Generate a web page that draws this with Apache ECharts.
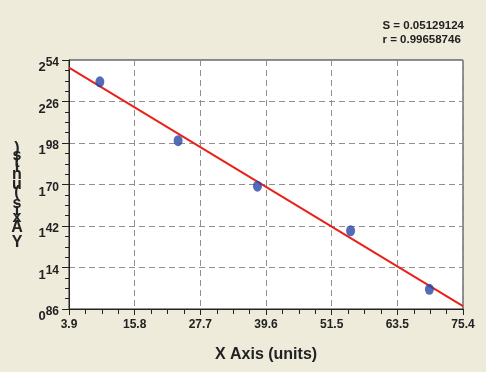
<!DOCTYPE html>
<html>
<head>
<meta charset="utf-8">
<script src="https://cdn.jsdelivr.net/npm/echarts@6/dist/echarts.min.js"></script>
<style>
html,body{margin:0;padding:0;background:#EEEBDB;}
#c{width:486px;height:372px;}
</style>
</head>
<body>
<div id="c"></div>
<script>
// ---- data ----
const xTicks = ['3.9','15.8','27.7','39.6','51.5','63.5','75.4'];
const yTicks = ['0.86','1.14','1.42','1.70','1.98','2.26','2.54'];
const pointsX = [9.5, 23.7, 38.1, 55.0, 69.3];
const pointsY = [2.393, 1.996, 1.689, 1.388, 0.993];
const fitX = [3.9, 75.4];
const fitY = [2.488, 0.880];
const statLines = ['S = 0.05129124', 'r = 0.99658746'];
const xTitle = 'X Axis (units)';
const yTitle = 'Y Axis (units)';

// ---- axes in offset units (origin at first tick) ----
const x0 = parseFloat(xTicks[0]), x1 = parseFloat(xTicks[xTicks.length-1]);
const y0 = parseFloat(yTicks[0]), y1 = parseFloat(yTicks[yTicks.length-1]);
const xInt = (x1 - x0) / (xTicks.length - 1);
const yInt = (y1 - y0) / (yTicks.length - 1);
const pts = pointsX.map((x, i) => [x - x0, pointsY[i] - y0]);
const fit = fitX.map((x, i) => [x - x0, fitY[i] - y0]);

const FONT = '"Liberation Sans", Arial, sans-serif';
const chart = echarts.init(document.getElementById('c'), null, {renderer: 'canvas'});

// stacked y title characters (top to bottom)
const ctx = document.createElement('canvas').getContext('2d');
ctx.font = 'bold 16px "Liberation Sans"';
const chars = yTitle.split('').reverse();
let cum = 0;
const yTitleEls = [];
chars.forEach(ch => {
  const w = ctx.measureText(ch).width;
  if (ch !== ' ') {
    yTitleEls.push({
      type: 'text',
      x: 17, y: 146 + cum + w / 2,
      style: {text: ch, font: 'bold 16px ' + FONT, fill: '#222', align: 'center', verticalAlign: 'middle'}
    });
  }
  cum += w;
});

chart.setOption({
  backgroundColor: '#EEEBDB',
  animation: false,
  grid: {left: 69, right: 23, top: 60, bottom: 63, show: true, backgroundColor: '#ffffff', borderColor: '#222', borderWidth: 1},
  xAxis: {
    type: 'value', min: 0, max: x1 - x0, interval: xInt,
    axisLine: {show: true, lineStyle: {color: '#222', width: 1}},
    axisTick: {show: true, length: 6, lineStyle: {color: '#222'}},
    minorTick: {show: true, splitNumber: 4, length: 5, lineStyle: {color: '#222'}},
    splitLine: {show: true, lineStyle: {color: '#909090', type: [6, 4], width: 1}},
    axisLabel: {
      margin: 10, color: '#222', fontFamily: FONT, fontWeight: 'bold', fontSize: 12,
      formatter: v => xTicks[Math.round(v / xInt)]
    },
    name: xTitle, nameLocation: 'middle', nameGap: 38,
    nameTextStyle: {color: '#222', fontFamily: FONT, fontWeight: 'bold', fontSize: 16}
  },
  yAxis: {
    type: 'value', min: 0, max: y1 - y0, interval: yInt,
    axisLine: {show: true, lineStyle: {color: '#222', width: 1}},
    axisTick: {show: true, length: 7, lineStyle: {color: '#222'}},
    minorTick: {show: true, splitNumber: 4, length: 4, lineStyle: {color: '#222'}},
    splitLine: {show: true, lineStyle: {color: '#909090', type: [6, 4], width: 1}},
    axisLabel: {
      margin: 10, color: '#222',
      formatter: v => {
        const s = yTicks[Math.round(v / yInt)];
        const p = s.split('.');
        return '{a|' + p[0] + '}{b|' + p[1] + '}';
      },
      rich: {
        a: {fontFamily: FONT, fontWeight: 'bold', fontSize: 13, color: '#222', padding: [15, 0, 0, 0], verticalAlign: 'middle'},
        b: {fontFamily: FONT, fontWeight: 'bold', fontSize: 12, color: '#222', padding: [6, 0, 0, 0], verticalAlign: 'middle'}
      }
    }
  },
  graphic: [
    {type: 'text', right: 22, top: 19, style: {text: statLines.join('\n'), font: 'bold 11.5px ' + FONT, fill: '#222', align: 'right', lineHeight: 14}},
    {type: 'group', children: yTitleEls}
  ],
  series: [
    {
      type: 'line', data: fit, showSymbol: false, symbol: 'none',
      lineStyle: {color: '#E8221B', width: 2}, z: 2, silent: true
    },
    {
      type: 'scatter', data: pts, symbol: 'circle', symbolSize: [9, 11],
      itemStyle: {color: '#2846A8'}, z: 3
    }
  ]
});
</script>
</body>
</html>
